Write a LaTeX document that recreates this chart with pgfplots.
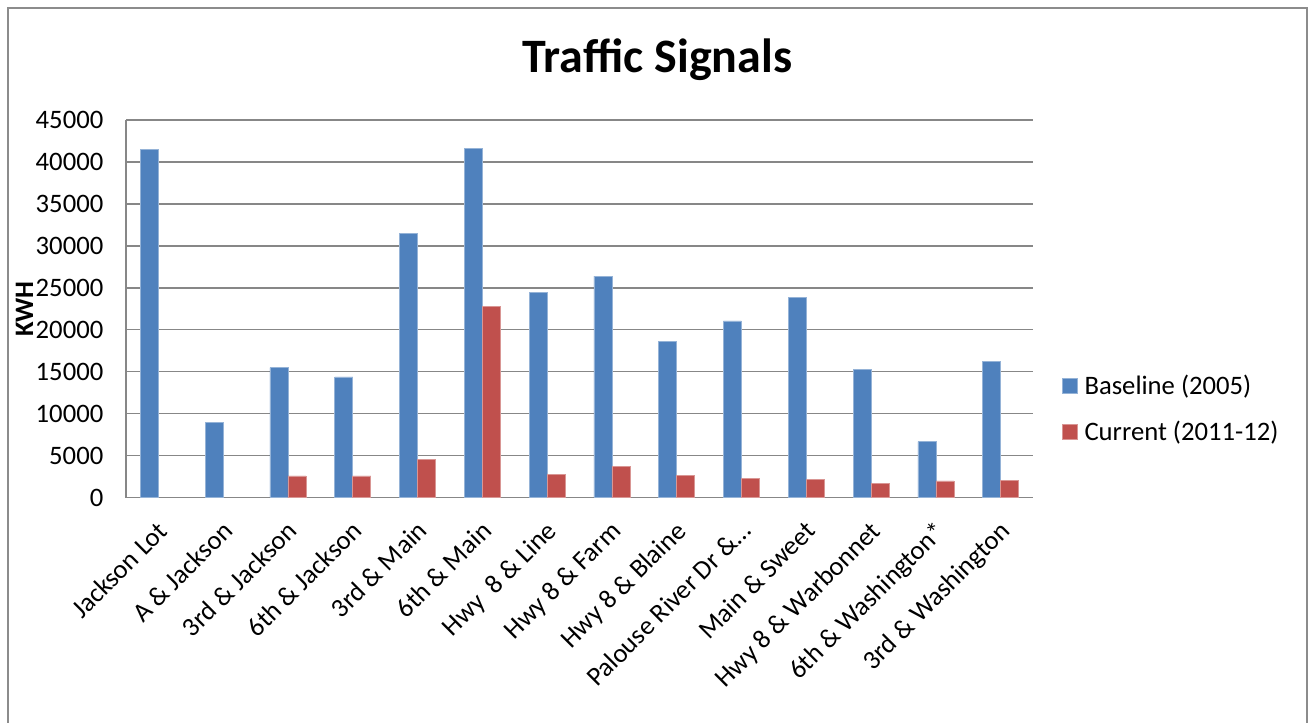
\documentclass[border=0pt]{standalone}
\usepackage{fontspec}
\setmainfont{Carlito}
\usepackage{pgfplots}
\pgfplotsset{compat=1.18}

\definecolor{baseblue}{HTML}{4F81BD}
\definecolor{currred}{HTML}{C0504D}
\definecolor{gridgray}{HTML}{878787}
\definecolor{framegray}{HTML}{8C8C8C}

\begin{document}
\begin{tikzpicture}
\useasboundingbox (0,0) rectangle (981pt,542.25pt);
% chart frame
\draw[framegray, line width=1.1pt] (6pt,-20pt) rectangle (980.4pt,536.2pt);
% title
\node[anchor=base, font=\bfseries\fontsize{36}{43}\selectfont] at (493.1pt,487.5pt) {Traffic Signals};

\begin{axis}[
  at={(94.5pt,168.98pt)}, anchor=south west,
  scale only axis,
  width=680.25pt, height=283.3pt,
  ybar=0pt, bar width=13.5pt,
  xmin=-0.5, xmax=13.5,
  ymin=0, ymax=45000,
  ytick={0,5000,...,45000},
  scaled y ticks=false,
  xtick={0,...,13},
  xticklabels={Jackson Lot, A \& Jackson, 3rd \& Jackson, 6th \& Jackson, 3rd \& Main, 6th \& Main, Hwy\ \ 8 \& Line, Hwy 8 \& Farm, Hwy 8 \& Blaine, Palouse River Dr \&…, Main \& Sweet, Hwy 8 \& Warbonnet, 6th \& Washington*, 3rd \& Washington},
  major tick length=0pt,
  axis x line*=bottom, axis y line*=left,
  axis line style={draw=gridgray, line width=1pt},
  ymajorgrids, grid style={draw=gridgray, line width=1pt},
  /pgf/number format/assume math mode=true,
  /pgf/number format/1000 sep={},
  tick label style={font=\fontsize{20}{24}\selectfont},
  yticklabel style={xshift=-13.5pt},
  xticklabel style={rotate=45, anchor=north east, xshift=-9.3pt, yshift=-6.9pt},
  ylabel={\bfseries KWH},
  ylabel style={at={(axis description cs:-0.112,0.5)}, anchor=center, font=\fontsize{20}{24}\selectfont},
  legend style={at={(1.0276,0.235)}, anchor=west, draw=none, fill=none,
    font=\fontsize{20}{24}\selectfont, row sep=14pt,
    legend cell align=left},
  legend image code/.code={\fill[#1] (0pt,-5.6pt) rectangle (11.25pt,5.6pt);},
  legend style={nodes={inner xsep=5pt}},
]
\addplot[fill=baseblue, draw=baseblue!60!white, line width=0.4pt] coordinates {
  (0,41500) (1,8950) (2,15500) (3,14400) (4,31500) (5,41600) (6,24450)
  (7,26400) (8,18600) (9,21050) (10,23900) (11,15250) (12,6670) (13,16250)};
\addlegendentry{Baseline (2005)}
\addplot[fill=currred, draw=currred!60!white, line width=0.4pt] coordinates {
  (2,2600) (3,2600) (4,4580) (5,22800) (6,2750)
  (7,3730) (8,2620) (9,2300) (10,2180) (11,1710) (12,1990) (13,2100)};
\addlegendentry{Current (2011-12)}
\end{axis}
\end{tikzpicture}
\end{document}
